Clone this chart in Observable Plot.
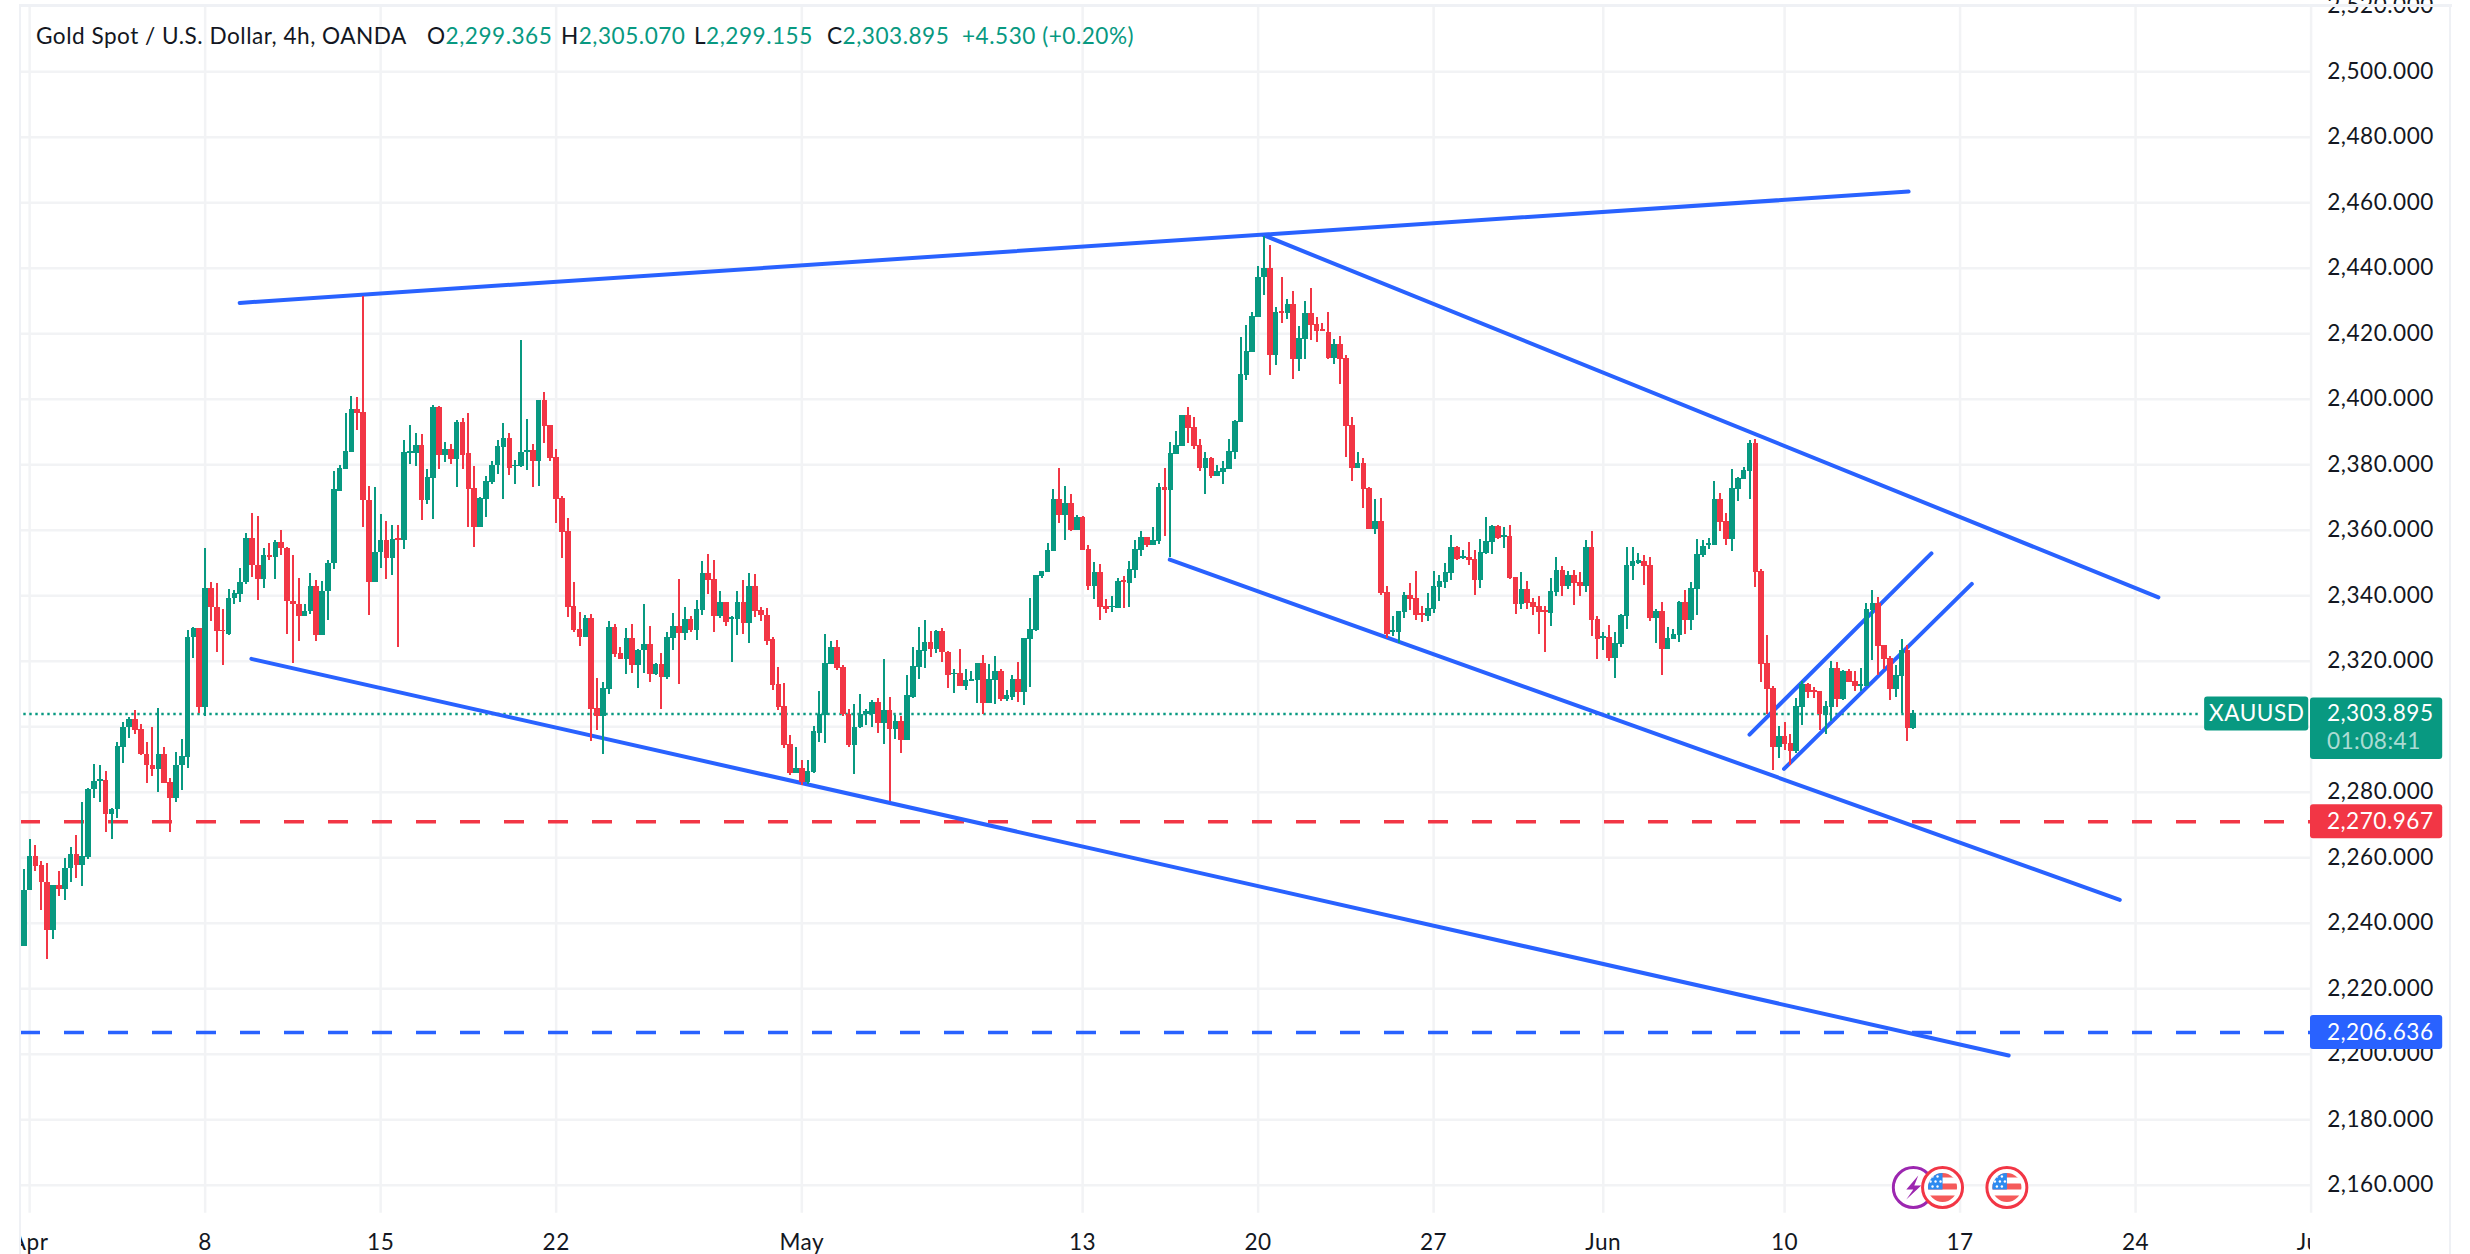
<!DOCTYPE html>
<html><head><meta charset="utf-8">
<script src="https://cdn.jsdelivr.net/npm/d3@7"></script>
<script src="https://cdn.jsdelivr.net/npm/@observablehq/plot@0.6"></script>
<style>
html,body{margin:0;padding:0;background:#fff;overflow:hidden}
#wrap{position:relative;width:2470px;height:1254px}
#wrap svg{position:absolute;left:0;top:0}
#wrap svg text{letter-spacing:.5px}
.frame{position:absolute;background:#eff1f5}
.hd{position:absolute;top:20px;font:22.6px Lato,sans-serif;letter-spacing:.5px;color:#131722;white-space:pre;line-height:32px}
.hd b{font-weight:400;color:#089981}
</style></head><body><div id="wrap"></div>
<script>
const opens=[
2233.0,2249.9,2260.3,2257.5,2252.4,2237.9,2251.5,2250.2,2256.6,2260.9,
2257.6,2260.2,2280.8,2283.4,2283.5,2273.1,2274.6,2293.6,2299.7,2302.2,
2299.0,2291.6,2288.1,2286.9,2291.4,2283.0,2278.0,2288.1,2290.7,2327.2,
2330.1,2306.0,2342.2,2336.4,2329.3,2328.3,2339.0,2340.5,2344.0,2357.5,
2349.3,2344.9,2352.3,2351.6,2356.3,2354.4,2338.3,2337.4,2333.5,2335.1,
2342.8,2327.8,2341.2,2349.8,2371.9,2378.4,2383.8,2396.7,2395.8,2369.2,
2343.9,2353.1,2356.7,2351.5,2357.6,2357.0,2383.3,2383.3,2386.0,2369.2,
2375.9,2397.6,2382.9,2384.5,2381.7,2393.0,2383.3,2372.6,2360.7,2369.5,
2374.7,2379.6,2385.1,2388.1,2379.5,2379.3,2383.6,2384.2,2381.1,2399.7,
2392.1,2382.3,2369.8,2359.7,2336.8,2329.8,2327.1,2332.9,2305.7,2303.2,
2311.5,2330.4,2322.2,2320.6,2326.8,2318.8,2323.2,2325.2,2315.8,2319.1,
2315.1,2326.8,2330.7,2328.6,2332.6,2329.5,2335.6,2346.9,2344.8,2333.5,
2338.0,2332.6,2332.6,2338.0,2331.6,2342.9,2335.6,2334.1,2326.5,2313.0,
2306.3,2294.7,2285.8,2287.1,2283.1,2286.1,2298.0,2303.5,2319.1,2324.3,
2318.2,2303.8,2294.4,2299.6,2303.8,2303.8,2307.5,2301.1,2304.8,2299.0,
2301.7,2295.9,2309.0,2318.2,2323.1,2325.8,2323.7,2329.2,2322.8,2315.8,
2316.1,2312.4,2313.9,2314.2,2319.4,2307.2,2314.2,2317.0,2308.4,2309.0,
2314.5,2310.3,2326.5,2329.5,2346.0,2347.2,2353.6,2369.5,2364.6,2368.3,
2360.0,2364.0,2354.2,2342.9,2347.2,2336.8,2336.3,2336.2,2344.5,2343.6,
2347.8,2353.8,2357.7,2355.3,2356.5,2373.0,2372.1,2383.1,2385.5,2395.0,
2391.3,2385.8,2378.8,2381.9,2376.4,2377.6,2378.5,2383.7,2392.9,2407.2,
2414.2,2424.9,2437.1,2439.9,2413.3,2426.8,2426.2,2428.9,2412.1,2418.2,
2426.2,2422.8,2421.3,2420.4,2412.4,2416.7,2412.4,2391.9,2378.8,2380.3,
2372.7,2360.2,2362.6,2340.9,2328.7,2328.7,2334.8,2340.0,2339.1,2334.5,
2333.6,2335.8,2342.5,2344.0,2346.7,2354.7,2351.3,2351.6,2351.0,2344.6,
2352.9,2356.2,2361.1,2357.8,2358.0,2345.5,2337.3,2341.9,2337.9,2336.7,
2335.4,2334.6,2341.0,2347.7,2342.8,2346.2,2344.1,2342.8,2354.8,2332.8,
2327.0,2327.3,2320.9,2325.1,2333.7,2349.0,2349.9,2350.5,2349.3,2333.1,
2335.2,2323.6,2326.7,2327.9,2338.0,2332.5,2341.9,2352.3,2355.4,2355.4,
2369.4,2362.7,2357.2,2372.5,2375.5,2378.0,2386.5,2347.4,2319.3,2311.7,
2293.7,2297.0,2294.9,2292.5,2305.9,2312.9,2311.1,2310.8,2303.5,2305.9,
2317.8,2308.3,2316.9,2313.8,2312.3,2312.3,2335.5,2337.7,2324.8,2320.9,
2311.4,2315.4,2323.3,2299.365];
const closes=[
2250.0,2260.3,2257.3,2252.3,2237.9,2251.5,2250.2,2256.7,2260.9,2257.6,
2260.3,2280.8,2283.3,2283.9,2273.1,2274.6,2293.8,2299.8,2302.2,2298.8,
2291.4,2288.1,2286.9,2291.4,2282.8,2278.0,2288.1,2290.8,2327.3,2330.0,
2306.0,2342.2,2336.4,2329.0,2329.0,2339.2,2340.6,2344.1,2357.5,2349.1,
2344.9,2352.3,2351.6,2356.3,2354.4,2338.2,2337.3,2333.5,2335.3,2342.8,
2327.8,2341.3,2349.9,2372.3,2378.7,2384.1,2396.7,2395.6,2369.0,2343.9,
2353.3,2356.7,2351.5,2357.3,2357.0,2383.6,2383.9,2386.0,2369.2,2376.2,
2397.6,2382.9,2384.5,2381.7,2393.0,2382.9,2372.3,2360.7,2369.8,2375.0,
2379.9,2385.4,2388.1,2378.7,2379.9,2383.6,2384.2,2381.1,2399.7,2391.8,
2382.0,2369.5,2359.4,2336.5,2329.5,2327.1,2332.9,2305.4,2303.2,2311.8,
2330.4,2321.9,2320.6,2326.8,2318.8,2323.4,2325.2,2315.8,2319.1,2315.1,
2327.1,2330.7,2328.6,2332.6,2329.5,2335.9,2346.9,2344.5,2333.5,2338.0,
2331.9,2333.2,2338.0,2331.6,2342.9,2335.3,2333.8,2326.1,2312.7,2306.0,
2294.4,2285.8,2287.1,2283.1,2286.4,2298.4,2303.8,2319.4,2324.3,2317.9,
2303.8,2294.4,2299.9,2303.8,2304.5,2307.5,2301.1,2304.8,2299.0,2301.7,
2295.9,2309.4,2318.5,2323.4,2325.8,2323.7,2329.2,2322.5,2315.5,2316.1,
2312.4,2314.2,2314.5,2319.4,2307.2,2314.5,2317.0,2308.4,2309.4,2314.5,
2310.3,2326.8,2329.8,2346.3,2347.5,2353.9,2369.5,2364.6,2368.3,2360.0,
2364.0,2353.9,2342.9,2347.2,2336.5,2335.9,2336.8,2344.2,2343.9,2348.1,
2354.2,2357.7,2355.3,2356.8,2373.0,2372.1,2383.4,2385.8,2395.0,2391.0,
2385.5,2378.8,2381.9,2376.4,2377.9,2378.8,2384.0,2393.2,2407.5,2414.5,
2425.2,2437.1,2439.9,2413.3,2426.5,2426.2,2428.9,2412.1,2418.5,2426.2,
2422.5,2420.7,2420.7,2412.4,2416.7,2412.1,2391.6,2378.8,2380.3,2372.4,
2360.2,2362.6,2340.6,2328.1,2329.3,2335.1,2340.0,2338.8,2333.9,2333.9,
2336.1,2342.8,2344.3,2347.1,2354.7,2351.0,2351.9,2350.7,2344.6,2353.2,
2356.5,2361.1,2357.4,2358.4,2345.2,2337.3,2341.9,2337.6,2336.4,2334.9,
2334.9,2341.3,2347.7,2342.8,2346.2,2343.8,2342.8,2354.8,2332.5,2326.7,
2327.6,2320.9,2325.4,2334.0,2349.3,2350.5,2350.8,2349.0,2333.1,2335.2,
2323.6,2327.0,2328.2,2338.0,2332.5,2342.2,2352.6,2355.1,2356.0,2369.4,
2362.4,2357.2,2372.8,2375.8,2378.3,2386.5,2347.1,2319.0,2311.4,2293.7,
2297.0,2294.6,2292.5,2306.2,2312.9,2310.5,2310.5,2303.8,2306.2,2317.8,
2308.3,2316.9,2313.5,2312.3,2312.9,2335.8,2337.7,2324.5,2320.6,2311.4,
2315.7,2323.3,2299.4,2303.895];
const highs=[
2256.5,2265.7,2263.6,2258.7,2258.1,2251.5,2255.9,2259.7,2263.0,2266.7,
2277.0,2281.2,2288.4,2288.0,2286.2,2275.0,2295.2,2301.3,2302.8,2304.9,
2300.8,2295.3,2299.6,2305.6,2293.5,2284.3,2292.0,2296.1,2329.5,2330.4,
2330.1,2354.3,2343.9,2343.6,2335.9,2342.0,2341.6,2348.3,2359.0,2365.2,
2364.3,2354.4,2355.8,2357.0,2360.0,2354.8,2352.4,2345.4,2337.4,2346.9,
2344.7,2344.4,2350.8,2377.8,2379.6,2395.5,2400.7,2400.4,2431.5,2373.2,
2372.9,2364.9,2362.5,2361.3,2361.3,2387.5,2392.1,2389.4,2389.1,2378.4,
2398.2,2397.9,2386.9,2386.3,2393.6,2394.2,2395.5,2379.3,2370.1,2376.5,
2381.1,2387.5,2392.7,2389.4,2381.4,2417.8,2393.9,2386.3,2399.7,2401.9,
2392.1,2384.5,2370.4,2363.7,2343.9,2335.0,2334.1,2334.4,2314.8,2313.6,
2332.2,2331.3,2324.3,2330.1,2331.3,2323.7,2337.4,2330.7,2319.4,2322.2,
2328.9,2334.7,2344.8,2336.5,2333.5,2338.4,2350.3,2352.7,2350.6,2341.4,
2338.0,2333.5,2341.4,2344.5,2346.9,2346.6,2336.5,2336.2,2327.1,2318.2,
2313.3,2297.4,2293.5,2289.8,2289.8,2300.2,2310.6,2328.3,2326.1,2326.4,
2318.8,2305.4,2306.9,2309.7,2305.1,2308.1,2308.7,2320.6,2309.0,2303.5,
2303.2,2315.5,2324.3,2330.4,2332.3,2329.2,2329.5,2330.1,2323.1,2317.6,
2323.7,2317.6,2317.0,2319.4,2321.6,2319.1,2321.3,2317.6,2310.9,2315.5,
2319.7,2326.8,2339.0,2346.3,2347.5,2355.8,2372.3,2378.7,2373.2,2371.0,
2364.6,2364.3,2355.2,2350.0,2349.4,2338.7,2339.9,2345.1,2346.0,2350.3,
2357.0,2359.6,2357.7,2360.8,2374.2,2378.8,2386.8,2390.1,2395.0,2397.4,
2394.4,2387.7,2383.7,2382.2,2379.7,2381.0,2387.7,2393.5,2418.8,2422.5,
2426.5,2440.5,2449.7,2446.9,2428.0,2437.1,2430.4,2432.9,2422.2,2429.8,
2433.8,2424.9,2423.1,2426.5,2418.2,2419.1,2413.3,2394.4,2383.7,2381.9,
2373.0,2369.3,2369.6,2342.8,2333.6,2335.1,2340.9,2343.7,2347.4,2336.7,
2340.6,2347.4,2346.1,2349.8,2358.3,2355.0,2353.8,2356.2,2353.8,2357.1,
2363.9,2361.4,2361.4,2360.8,2361.4,2345.5,2347.1,2344.3,2339.1,2339.8,
2336.7,2345.3,2351.7,2348.9,2347.4,2347.7,2347.1,2356.9,2359.6,2333.7,
2328.8,2330.9,2328.8,2334.3,2354.8,2354.8,2352.9,2352.3,2351.7,2335.8,
2338.0,2330.3,2329.7,2338.3,2341.6,2344.1,2357.2,2356.9,2357.5,2374.9,
2371.3,2365.1,2378.6,2376.1,2379.2,2387.4,2387.7,2348.0,2327.9,2312.3,
2300.1,2301.3,2297.6,2308.6,2313.8,2313.2,2312.0,2310.8,2307.7,2319.9,
2319.6,2317.2,2317.5,2316.9,2317.8,2337.7,2341.6,2339.5,2324.8,2321.5,
2318.7,2326.7,2324.8,2305.07];
const lows=[
2233.0,2249.9,2255.9,2243.8,2228.9,2234.9,2248.0,2246.8,2252.3,2253.5,
2251.1,2259.5,2278.0,2276.8,2267.8,2265.7,2271.9,2288.9,2296.5,2297.7,
2291.1,2282.8,2284.9,2279.8,2282.8,2267.8,2276.8,2280.5,2287.2,2320.8,
2304.1,2303.0,2332.1,2322.8,2318.8,2327.7,2337.3,2337.9,2343.4,2345.7,
2338.5,2342.1,2350.7,2344.9,2352.4,2328.0,2319.3,2325.9,2333.5,2334.2,
2325.9,2327.8,2332.3,2348.0,2371.9,2378.4,2383.6,2390.3,2360.7,2333.8,
2343.9,2348.4,2344.8,2346.3,2324.3,2354.2,2380.2,2379.3,2363.1,2367.7,
2363.4,2378.4,2380.8,2380.2,2372.9,2378.4,2360.9,2354.8,2360.7,2364.0,
2373.8,2377.1,2369.5,2376.8,2373.8,2379.0,2378.1,2372.9,2373.2,2386.6,
2381.1,2361.9,2351.5,2333.2,2328.9,2324.6,2327.1,2295.6,2298.8,2291.5,
2309.7,2321.2,2320.6,2315.8,2316.1,2311.8,2316.1,2313.6,2315.5,2305.1,
2314.5,2323.4,2313.0,2326.4,2328.9,2326.4,2334.1,2340.5,2328.9,2332.9,
2330.7,2319.7,2327.7,2328.3,2325.5,2333.2,2332.0,2324.9,2310.9,2304.8,
2293.2,2285.2,2285.8,2281.9,2282.5,2285.8,2295.3,2295.0,2319.1,2317.3,
2303.2,2293.5,2285.5,2299.3,2300.5,2299.9,2297.8,2294.7,2277.3,2296.2,
2291.9,2295.9,2308.7,2314.5,2317.9,2321.0,2322.2,2319.7,2311.8,2310.0,
2312.4,2311.2,2313.9,2307.2,2303.8,2307.2,2306.9,2307.8,2307.8,2308.1,
2307.5,2306.6,2312.1,2329.2,2345.4,2347.2,2353.6,2361.9,2356.7,2359.7,
2360.0,2353.9,2341.7,2338.7,2332.3,2334.7,2335.0,2336.2,2336.2,2336.5,
2345.1,2351.9,2354.7,2355.3,2355.6,2358.0,2351.6,2383.1,2385.5,2386.4,
2384.6,2377.9,2370.9,2375.8,2376.4,2373.9,2378.5,2381.6,2392.9,2405.7,
2414.2,2424.9,2431.6,2407.2,2410.3,2423.1,2424.3,2406.0,2408.4,2412.1,
2417.9,2417.3,2420.7,2412.1,2410.6,2404.5,2382.2,2374.8,2378.8,2366.6,
2360.2,2358.7,2340.0,2326.9,2327.5,2325.3,2333.0,2335.4,2332.4,2331.8,
2332.1,2334.5,2338.2,2342.2,2344.6,2350.7,2351.0,2349.2,2340.0,2342.2,
2352.5,2352.5,2357.1,2354.4,2344.9,2334.2,2335.8,2335.8,2333.9,2328.2,
2322.8,2330.6,2339.8,2339.8,2341.9,2337.1,2339.8,2341.0,2327.6,2320.6,
2323.3,2319.9,2314.8,2324.2,2329.7,2344.7,2349.6,2343.2,2332.2,2325.4,
2315.7,2323.6,2326.7,2325.7,2328.2,2329.4,2334.0,2351.7,2354.2,2355.4,
2359.6,2355.4,2353.5,2368.8,2375.5,2369.4,2342.5,2313.5,2303.8,2286.7,
2290.3,2292.8,2288.2,2291.8,2300.4,2308.6,2308.6,2298.9,2297.7,2301.6,
2305.9,2308.0,2313.5,2310.8,2310.8,2312.3,2320.2,2315.7,2317.5,2308.0,
2308.9,2304.1,2295.5,2299.155];

// time axis: bar index of each label
const timeTickBars=[1,31,61,91,133,181,211,241,270,301,331,361,391];
const timeTickLabels=["Apr","8","15","22","May","13","20","27","Jun","10","17","24","Jul"];
const priceTicks=d3.range(2160,2521,20);

// trend lines: [bar, price, bar, price]
const trendLines=[
 [36.9,2429.4,322.2,2463.4],
 [211.9,2450.1,364.9,2339.5],
 [195.9,2351.0,358.3,2247.1],
 [38.9,2320.7,339.3,2199.6],
 [295.0,2297.6,326.1,2352.9],
 [300.9,2287.1,333.0,2343.6]
];
const lastPrice=2303.895, redLevel=2270.967, blueLevel=2206.636;
const flagBars=[328,339], boltBars=[323], iconPrice=2159.3;

const GREEN="#089981", RED="#F23645", BLUE="#2962FF", INK="#131722", GRID="#f2f3f5";
const FONT="Lato, sans-serif";

const bars=opens.map((o,i)=>({i,o,c:closes[i],h:highs[i],l:lows[i],col:closes[i]>=o?GREEN:RED}));
const segs=trendLines.map(([a,b,c,d],k)=>[{k,x:a,y:b},{k,x:c,y:d}]).flat();

const flagSvg=`<svg xmlns="http://www.w3.org/2000/svg" viewBox="0 0 44 44"><defs><clipPath id="c"><circle cx="22" cy="22" r="14.5"/></clipPath></defs><circle cx="22" cy="22" r="20" fill="#fff" stroke="#F23645" stroke-width="3"/><g clip-path="url(#c)"><rect width="44" height="44" fill="#fff"/><rect x="6" y="6" width="32" height="6" fill="#F55A5A"/><rect x="6" y="18" width="32" height="6" fill="#F55A5A"/><rect x="6" y="30" width="32" height="8" fill="#F55A5A"/><rect x="6" y="6" width="16" height="18" fill="#2E8BF0"/><g fill="#fff"><circle cx="12" cy="11" r="1.2"/><circle cx="17" cy="11" r="1.2"/><circle cx="10" cy="16" r="1.2"/><circle cx="15" cy="16" r="1.2"/><circle cx="20" cy="16" r="1.2"/><circle cx="12" cy="21" r="1.2"/><circle cx="17" cy="21" r="1.2"/></g></g></svg>`;
const boltSvg=`<svg xmlns="http://www.w3.org/2000/svg" viewBox="0 0 44 44"><circle cx="22" cy="22" r="20" fill="#fff" stroke="#9C27B0" stroke-width="3"/><path d="M27 10 L15 24 L22 24 L15 34 L30 20 L23 20 Z" fill="#9C27B0"/></svg>`;
const uri=s=>"data:image/svg+xml;charset=utf-8,"+encodeURIComponent(s);

// tag geometry expressed in the chart's own units
const tagLeft=390.9, tagRight=413.5, labelX=393.7;
const tagH=5.2;
const levelTags=[{t:"2,270.967",p:redLevel,c:RED},{t:"2,206.636",p:blueLevel,c:BLUE}];

const chart=Plot.plot({
  width:2470,height:1254,
  marginLeft:20,marginRight:160,marginTop:6,marginBottom:0,
  style:{fontFamily:FONT,fontSize:"22.6px",background:"transparent",color:INK,overflow:"hidden"},
  x:{domain:[-0.564,390.9],axis:null},
  y:{domain:[2138.84,2519.9],axis:null},
  marks:[
    Plot.ruleY(priceTicks.filter(d=>d<=2500),{stroke:GRID,strokeWidth:2.5}),
    Plot.ruleX(timeTickBars,{y1:2151.4,y2:2519.9,stroke:GRID,strokeWidth:2.5}),
    Plot.text(timeTickLabels,{x:(d,i)=>timeTickBars[i],text:d=>d,frameAnchor:"bottom",dy:-12,lineAnchor:"middle",fill:INK,clip:"frame"}),
    Plot.ruleY([lastPrice],{x2:372,stroke:GREEN,strokeWidth:2.4,strokeDasharray:"2.4,3.6"}),
    Plot.ruleY([redLevel],{stroke:RED,strokeWidth:3.6,strokeDasharray:"20,24"}),
    Plot.ruleY([blueLevel],{stroke:BLUE,strokeWidth:3.6,strokeDasharray:"20,24"}),
    Plot.line(segs,{x:"x",y:"y",z:"k",stroke:BLUE,strokeWidth:4,strokeLinecap:"round"}),
    Plot.ruleX(bars,{x:"i",y1:"l",y2:"h",stroke:"col",strokeWidth:2,shapeRendering:"crispEdges"}),
    Plot.ruleX(bars,{x:"i",y1:"o",y2:"c",stroke:"col",strokeWidth:5.6,shapeRendering:"crispEdges"}),
    Plot.image(boltBars,{x:d=>d,y:iconPrice,src:uri(boltSvg),width:44,height:44}),
    Plot.image(flagBars,{x:d=>d,y:iconPrice,src:uri(flagSvg),width:44,height:44}),
    Plot.axisY(priceTicks.filter(d=>d!==2300),{anchor:"right",tickSize:0,tickPadding:16.7,tickFormat:d3.format(",.3f"),label:null,fill:INK}),
    Plot.rect([lastPrice],{x1:372.8,x2:390.6,y1:d=>d-5.2,y2:d=>d+5.2,fill:GREEN,rx:3}),
    Plot.text(["XAUUSD"],{x:381.7,y:lastPrice,text:d=>d,fill:"#fff",textAnchor:"middle"}),
    Plot.rect([lastPrice],{x1:tagLeft,x2:tagRight,y1:d=>d-13.9,y2:d=>d+4.9,fill:GREEN,rx:3}),
    Plot.text([lastPrice],{x:labelX,y:d=>d,text:d3.format(",.3f"),fill:"#fff",textAnchor:"start"}),
    Plot.text(["01:08:41"],{x:labelX,y:lastPrice,dy:28,text:d=>d,fill:"rgba(255,255,255,.68)",textAnchor:"start"}),
    Plot.rect(levelTags,{x1:tagLeft,x2:tagRight,y1:d=>d.p-tagH,y2:d=>d.p+tagH,fill:"c",rx:3}),
    Plot.text(levelTags,{x:labelX,y:"p",text:"t",fill:"#fff",textAnchor:"start"})
  ]
});
const w=document.getElementById("wrap");
w.appendChild(chart);
[["left:19px;top:4px;width:2433px;height:3px"],["left:19px;top:4px;width:2px;height:1250px"],["left:2449px;top:4px;width:2px;height:1250px"]]
 .forEach(([s])=>{const d=document.createElement("div");d.className="frame";d.style.cssText=s;w.appendChild(d);});
const header=[
 [36,'Gold Spot / U.S. Dollar, 4h, OANDA'],
 [427,'O<b>2,299.365</b>'],[561,'H<b>2,305.070</b>'],[694,'L<b>2,299.155</b>'],[827,'C<b>2,303.895</b>'],
 [962,'<b>+4.530 (+0.20%)</b>']];
header.forEach(([l,h])=>{const d=document.createElement("div");d.className="hd";d.style.left=l+"px";d.innerHTML=h;w.appendChild(d);});
</script></body></html>
